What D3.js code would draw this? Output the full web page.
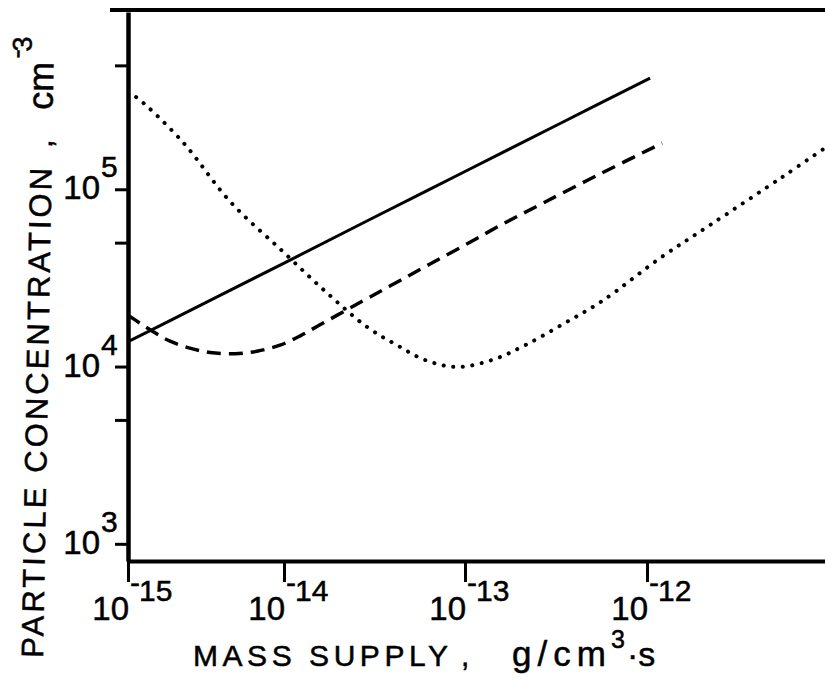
<!DOCTYPE html>
<meta charset="utf-8">
<style>
body {
  margin: 0;
  background-color: white;
}
svg {
  display: block;
  font-family: "Liberation Sans", sans-serif;
}
text {
  stroke: #000;
  stroke-width: 0.5px;
}
.curve {
  fill: none;
  stroke: #000;
}
.axis path,
.axis line {
  stroke: #000;
}
</style>
<svg width="825" height="686"></svg>
<script src="https://d3js.org/d3.v7.min.js"></script>
<script>
// mass supply (g/cm3 s) against particle concentration (cm-3), one pair per curve
var solidMass = [1e-15, 1.78e-15, 3.89e-15, 1.04e-14, 2.87e-14, 1e-13, 3.33e-13, 1.04e-12];
var solidConc = [1.38e4, 1.78e4, 2.52e4, 3.91e4, 6.62e4, 1.26e5, 2.35e5, 4.24e5];

var dashedMass = [1e-15, 1.19e-15, 1.49e-15, 1.86e-15, 2.49e-15, 3.36e-15, 4.85e-15, 6.71e-15, 9.42e-15, 1.23e-14,
  1.58e-14, 2.17e-14, 2.99e-14, 4.38e-14, 6.41e-14, 1e-13, 1.56e-13, 2.69e-13, 5.52e-13, 1.21e-12];
var dashedConc = [1.95e4, 1.76e4, 1.55e4, 1.39e4, 1.27e4, 1.2e4, 1.18e4, 1.22e4, 1.32e4, 1.49e4,
  1.72e4, 2.06e4, 2.47e4, 3.06e4, 3.79e4, 4.85e4, 6.25e4, 8.37e4, 1.22e5, 1.82e5];

var dottedMass = [1e-15, 1.17e-15, 2.24e-15, 4.53e-15, 9.9e-15, 1.73e-14, 2.88e-14, 4.21e-14, 6.01e-14,
  9.0e-14, 1.41e-13, 2.14e-13, 3.54e-13, 5.66e-13, 1.18e-12, 2.22e-12, 5.52e-12, 9.5e-12];
var dottedConc = [3.53e5, 3.23e5, 1.85e5, 8.5e4, 4.43e4, 2.6e4, 1.67e4, 1.32e4, 1.09e4,
  9.94e3, 1.09e4, 1.32e4, 1.76e4, 2.34e4, 4.09e4, 6.28e4, 1.17e5, 1.71e5];

var massTicks = [1e-15, 1e-14, 1e-13, 1e-12];
var massExp = ["15", "14", "13", "12"];
var concTicks = [1e3, 1e4, 1e5];
var concExp = ["3", "4", "5"];
var concMinor = [5e3, 5e4, 5e5];

var svg = d3.select("svg");

// hand-drawn decades are not quite even, so the log scale is piecewise
var x = d3.scaleLog()
    .domain([1e-15, 1e-14, 1e-13, 1e-12, 1e-11])
    .range([128, 284, 465, 647, 829]);
var y = d3.scaleLog().domain([800, 1e6]).range([561, 12]);

var x0 = x(1e-15), y0 = y(800), y1 = y(1e6) - 2;

svg.append("defs").append("clipPath").attr("id", "plot")
  .append("rect")
    .attr("x", x0).attr("y", y1)
    .attr("width", 825 - x0).attr("height", y0 - y1);

// frame line along the top
svg.append("line")
    .attr("x1", x0 - 18).attr("x2", 825)
    .attr("y1", y1).attr("y2", y1)
    .attr("stroke", "#000").attr("stroke-width", 4);

var gx = svg.append("g")
    .attr("class", "axis")
    .attr("transform", "translate(0," + y0 + ")")
    .call(d3.axisBottom(x).tickValues(massTicks).tickSize(21).tickSizeOuter(0).tickFormat(""));
gx.select(".domain").attr("stroke-width", 4);
gx.selectAll(".tick line").attr("stroke-width", 3);

var gy = svg.append("g")
    .attr("class", "axis")
    .attr("transform", "translate(" + x0 + ",0)")
    .call(d3.axisLeft(y).tickValues(concTicks.concat(concMinor)).tickSize(13).tickSizeOuter(0).tickFormat(""));
gy.select(".domain").attr("stroke-width", 4.5);
gy.selectAll(".tick line").attr("stroke-width", 3);

// power-of-ten labels
massTicks.forEach(function(t, i) {
  svg.append("text")
      .attr("x", x(t) + 1).attr("y", y0 + 59)
      .attr("text-anchor", "end")
      .style("font-size", "33px")
      .text("10");
  var e = svg.append("text")
      .attr("x", x(t) + 2).attr("y", y0 + 40)
      .style("font-size", "30px");
  e.append("tspan").attr("dy", -8).text("-");
  e.append("tspan").attr("dy", 8).attr("dx", -1).text(massExp[i]);
});

concTicks.forEach(function(t, i) {
  svg.append("text")
      .attr("x", 100).attr("y", y(t) + 10)
      .attr("text-anchor", "end")
      .style("font-size", "33px")
      .text("10");
  svg.append("text")
      .attr("x", 101).attr("y", y(t) - 12)
      .style("font-size", "30px")
      .text(concExp[i]);
});

// x title; the lettering's lower case is nearly as tall as its capitals
svg.append("text")
    .attr("x", 193).attr("y", 666)
    .attr("textLength", 255).attr("lengthAdjust", "spacing")
    .style("font-size", "30px")
    .text("MASS SUPPLY");
svg.append("text")
    .attr("x", 461).attr("y", 666)
    .style("font-size", "30px")
    .text(",");
svg.append("text")
    .attr("x", 512).attr("y", 666)
    .attr("textLength", 94).attr("lengthAdjust", "spacing")
    .style("font-size", "35px")
    .text("g/cm");
svg.append("text")
    .attr("x", 611).attr("y", 648)
    .style("font-size", "25px")
    .text("3");
svg.append("text")
    .attr("x", 627).attr("y", 666)
    .style("font-size", "34px")
    .text("·s");

// y title, written upward along a slightly leaning baseline
var yt = svg.append("g")
    .attr("transform", "translate(43,658) rotate(-89)");
yt.append("text")
    .attr("x", 0)
    .attr("textLength", 490).attr("lengthAdjust", "spacing")
    .style("font-size", "31px")
    .text("PARTICLE CONCENTRATION");
yt.append("text")
    .attr("x", 510)
    .style("font-size", "31px")
    .text(",");
yt.append("text")
    .attr("x", 548)
    .style("font-size", "36px")
    .text("cm");
var ye = yt.append("text")
    .attr("x", 599).attr("y", -22)
    .style("font-size", "27px");
ye.append("tspan").attr("dy", -6).text("-");
ye.append("tspan").attr("dy", 6).attr("dx", -2).text("3");

// the three curves
var plot = svg.append("g").attr("clip-path", "url(#plot)");

function curve(mass, conc) {
  return d3.line()
      .x(function(d, i) { return x(mass[i]); })
      .y(function(d, i) { return y(conc[i]); })
      .curve(d3.curveCatmullRom.alpha(0.5))(mass);
}

plot.append("path")
    .attr("class", "curve")
    .attr("d", curve(solidMass, solidConc))
    .attr("stroke-width", 3);

plot.append("path")
    .attr("class", "curve")
    .attr("d", curve(dashedMass, dashedConc))
    .attr("stroke-width", 3.5)
    .attr("stroke-dasharray", "14,8");

plot.append("path")
    .attr("class", "curve")
    .attr("d", curve(dottedMass, dottedConc))
    .attr("stroke-width", 4)
    .attr("stroke-linecap", "round")
    .attr("stroke-dasharray", "0.1,9.5");
</script>
